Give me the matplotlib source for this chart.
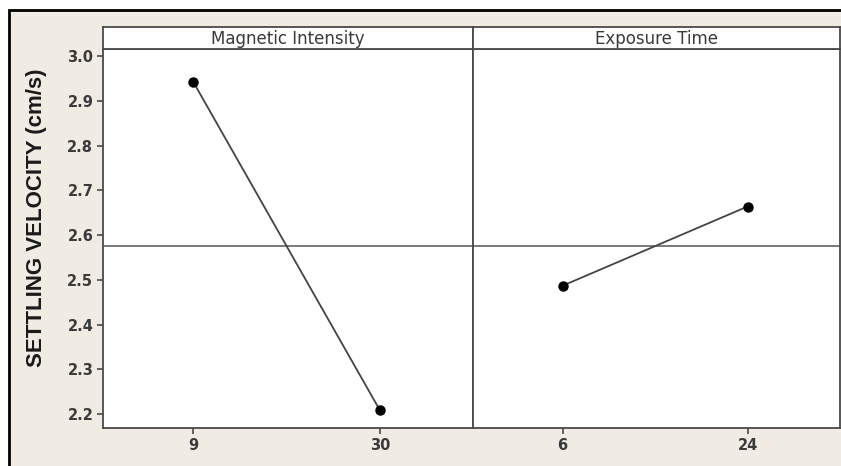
import matplotlib
matplotlib.use('Agg')
import matplotlib.pyplot as plt
from matplotlib.patches import Rectangle
import numpy as np

# Main effects data
factors = ['Magnetic Intensity', 'Exposure Time']
levels = [['9', '30'], ['6', '24']]
means = [[2.942, 2.209], [2.487, 2.664]]
grand_mean = 2.5755
y_ticks = [2.2, 2.3, 2.4, 2.5, 2.6, 2.7, 2.8, 2.9, 3.0]
y_label = 'SETTLING VELOCITY (cm/s)'

W, H = 841, 466
fig = plt.figure(figsize=(W / 100, H / 100), dpi=100, facecolor='white')

# beige frame with black border (right/bottom cut off)
fig.patches.append(Rectangle((9 / W, -0.1), 1.2, (H - 10) / H + 0.1,
                             transform=fig.transFigure, facecolor='#f0ece3',
                             edgecolor='black', linewidth=2, zorder=-10))

left, mid, right = 103 / W, 473 / W, 840 / W
bottom, top, strip_top = (H - 428) / H, (H - 49) / H, (H - 27) / H
ylim = (2.169, 3.016)
spine_col = '#4a4a4a'
text_col = '#3a3a3a'

for i, name in enumerate(factors):
    x0 = left if i == 0 else mid
    x1 = mid if i == 0 else right
    ax = fig.add_axes([x0, bottom, x1 - x0, top - bottom])
    ax.set_facecolor('white')
    xs = np.arange(len(levels[i]))
    ax.axhline(grand_mean, color='#555555', lw=1.1, zorder=1)
    ax.plot(xs, means[i], color='#444444', lw=1.3, marker='o', ms=6.5,
            mfc='black', mec='black', zorder=3)
    ax.set_xlim(-0.485, 1.5)
    ax.set_ylim(*ylim)
    ax.set_xticks(xs)
    ax.set_xticklabels(levels[i], fontsize=10.5, fontweight='bold', color=text_col)
    ax.tick_params(axis='x', direction='out', length=4, width=1.2, color=spine_col, pad=3)
    if i == 0:
        ax.set_yticks(y_ticks)
        ax.set_yticklabels([f'{v:.1f}' for v in y_ticks], fontsize=10.5,
                           fontweight='bold', color=text_col)
        ax.tick_params(axis='y', direction='out', length=4, width=1.2, color=spine_col, pad=3)
    else:
        ax.set_yticks([])
    for s in ax.spines.values():
        s.set_color(spine_col)
        s.set_linewidth(1.3)

    # strip with factor name
    sax = fig.add_axes([x0, top, x1 - x0, strip_top - top])
    sax.set_facecolor('white')
    sax.set_xticks([])
    sax.set_yticks([])
    for s in sax.spines.values():
        s.set_color(spine_col)
        s.set_linewidth(1.3)
    sax.text(0.5, 0.45, name, ha='center', va='center', fontsize=12,
             color=text_col, transform=sax.transAxes)

fig.text(37 / W, (H - 218) / H, y_label, rotation=90, ha='center', va='center',
         fontsize=16, fontweight='bold', color='#1a1a1a',
         family='Liberation Sans')

fig.savefig('out.png', dpi=100, facecolor=fig.get_facecolor())
